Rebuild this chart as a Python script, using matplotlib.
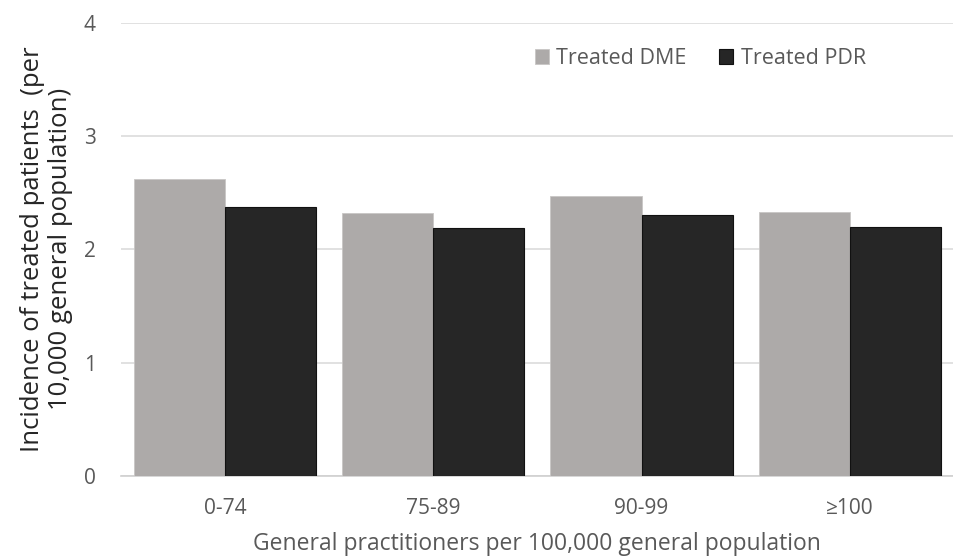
import matplotlib
matplotlib.use("Agg")
import matplotlib.pyplot as plt
import numpy as np

categories = ["0-74", "75-89", "90-99", "≥100"]
dme = [2.62, 2.32, 2.47, 2.33]
pdr = [2.37, 2.19, 2.30, 2.20]
series_names = ["Treated DME", "Treated PDR"]
yticks = [0, 1, 2, 3, 4]

plt.rcParams['font.family'] = ['Open Sans', 'DejaVu Sans']

fig = plt.figure(figsize=(9.54, 5.6), dpi=100)
ax = fig.add_axes([0.1265, 0.15, 0.8735, 0.8095])

x = np.arange(len(categories))
w = 0.4375
ax.bar(x - w/2, dme, width=w, color="#adaaa9", edgecolor="#c8c6c5", linewidth=0.6,
       label=series_names[0], zorder=3)
ax.bar(x + w/2, pdr, width=w, color="#262626", edgecolor="#111111", linewidth=0.8,
       label=series_names[1], zorder=3)

ax.set_xlim(-0.5, 3.5)
ax.set_ylim(0, 4)
ax.set_yticks(yticks)
ax.set_xticks(x)
ax.set_xticklabels(categories)
ax.yaxis.grid(True, color="#dcdcdc", linewidth=1.2, zorder=0)
ax.set_axisbelow(True)
for s in ["top", "right", "left"]:
    ax.spines[s].set_visible(False)
ax.spines["bottom"].set_color("#d0d0d0")
ax.spines["bottom"].set_linewidth(1.2)
ax.tick_params(axis="both", length=0, colors="#595959", labelsize=15)
ax.tick_params(axis="x", pad=16)
ax.tick_params(axis="y", pad=18)

ax.set_xlabel("General practitioners per 100,000 general population",
              fontsize=16.5, color="#595959", labelpad=9)
ax.set_ylabel("Incidence of treated patients  (per\n10,000 general population)",
              fontsize=18.5, color="#262626", labelpad=8, linespacing=1.15)

ax.legend(loc="center right", bbox_to_anchor=(0.907, 0.921), ncol=2, frameon=False,
          borderpad=0, fontsize=15.5, labelcolor="#595959", handlelength=0.65,
          handleheight=0.65, handletextpad=0.35, columnspacing=1.5)

fig.savefig("out.png", dpi=100)
